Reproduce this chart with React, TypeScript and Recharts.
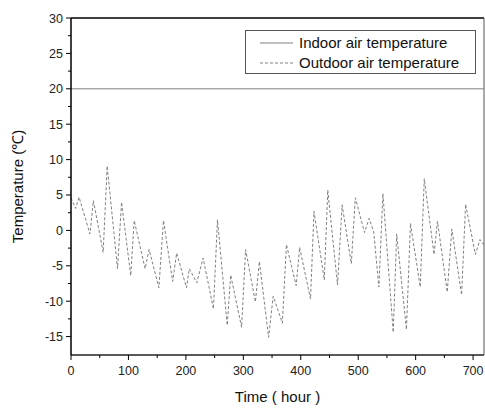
import React from 'react'
import { LineChart, Line, XAxis, YAxis, ReferenceLine } from 'recharts'

// outdoor air temperature (hour, °C)
const hours = [
  0, 8, 14, 33, 39, 56, 63, 81, 88, 104, 110, 129, 136, 153, 161, 177, 184, 201, 206, 219,
  230, 248, 255, 272, 278, 297, 304, 321, 328, 344, 352, 368, 375, 392, 398, 417, 423, 441,
  447, 464, 472, 488, 495, 511, 519, 527, 536, 543, 561, 567, 584, 591, 608, 615, 632, 638,
  655, 663, 680, 687, 704, 712, 719,
]
const outdoor = [
  4.6, 3.1, 4.7, -0.5, 4.2, -3.1, 9.1, -5.4, 4.0, -6.4, 1.4, -5.4, -2.7, -8.1, 1.4, -7.2, -3.2,
  -8.1, -5.4, -7.4, -3.9, -11.1, 1.5, -13.4, -6.3, -13.7, -2.7, -10.1, -4.4, -15.1, -9.3, -13.1,
  -2.0, -7.8, -2.4, -9.7, 2.7, -7.0, 5.7, -7.7, 3.6, -4.7, 4.6, -0.3, 1.7, -0.2, -8.0, 5.2, -14.4,
  -0.5, -14.0, 1.0, -8.0, 7.3, -3.4, 1.3, -8.7, 0.2, -9.1, 3.7, -3.4, -1.3, -2.1,
]

// indoor air temperature is held constant
const indoorHours = [0, 719]
const indoorValues = [20, 20]

const xTicks = [0, 50, 100, 150, 200, 250, 300, 350, 400, 450, 500, 550, 600, 650, 700]
const yTicks = [-15, -12.5, -10, -7.5, -5, -2.5, 0, 2.5, 5, 7.5, 10, 12.5, 15, 17.5, 20, 22.5, 25, 27.5, 30]

const outdoorData = hours.map((h, i) => ({ hour: h, outdoor: outdoor[i] }))
const indoorData = indoorHours.map((h, i) => ({ hour: h, indoor: indoorValues[i] }))

const font = '"Liberation Sans", Arial, sans-serif'
const lineGray = '#808080'

function XTick({ x, y, payload }: any) {
  const major = payload.value % 100 === 0
  return (
    <g>
      <line x1={x} x2={x} y1={y} y2={y + (major ? 5 : 3)} stroke="#000" strokeWidth={1} />
      {major && (
        <text x={x} y={y + 11} dy="0.75em" textAnchor="middle" fontSize={12.5} fill="#222" fontFamily={font}>
          {payload.value}
        </text>
      )}
    </g>
  )
}

function YTick({ x, y, payload }: any) {
  const major = payload.value % 5 === 0
  return (
    <g>
      <line x1={x - (major ? 5 : 3)} x2={x} y1={y} y2={y} stroke="#000" strokeWidth={1} />
      {major && (
        <text x={x - 8} y={y} dy="0.36em" textAnchor="end" fontSize={12.5} fill="#222" fontFamily={font}>
          {payload.value}
        </text>
      )}
    </g>
  )
}

function YTitle({ viewBox }: any) {
  const cy = viewBox.y + viewBox.height / 2
  return (
    <text
      x={18}
      y={cy}
      transform={`rotate(-90 18 ${cy})`}
      textAnchor="middle"
      dy="0.36em"
      fontSize={15}
      fill="#111"
      fontFamily={font}
    >
      Temperature (℃)
    </text>
  )
}

function XTitle({ viewBox }: any) {
  const cx = viewBox.x + viewBox.width / 2
  return (
    <text x={cx} y={402} textAnchor="middle" fontSize={15} fill="#111" fontFamily={font}>
      Time ( hour )
    </text>
  )
}

function LegendBox() {
  const row = (label: string, dash?: string) => (
    <div style={{ display: 'flex', alignItems: 'center', height: 20 }}>
      <svg width={33} height={4} style={{ marginLeft: 14, marginRight: 6 }}>
        <line x1={0} x2={33} y1={2} y2={2} stroke={lineGray} strokeWidth={1} strokeDasharray={dash} />
      </svg>
      <span style={{ fontSize: 15, color: '#111', fontFamily: font, lineHeight: '20px' }}>{label}</span>
    </div>
  )
  return (
    <div
      style={{
        position: 'absolute',
        left: 245,
        top: 30,
        width: 229,
        height: 40,
        border: '1px solid #555',
        background: '#fff',
        paddingTop: 2,
        boxSizing: 'content-box',
      }}
    >
      {row('Indoor air temperature')}
      {row('Outdoor air temperature', '3 2')}
    </div>
  )
}

export default function App() {
  return (
    <div style={{ position: 'absolute', left: 0, top: 0, width: 485, height: 408, background: '#fff' }}>
      <LineChart width={485} height={408} margin={{ top: 18, right: 1, bottom: 0, left: 0 }}>
        <XAxis
          dataKey="hour"
          type="number"
          domain={[0, 719]}
          ticks={xTicks}
          interval={0}
          height={53}
          tickSize={0}
          tickMargin={0}
          tickLine={false}
          tick={<XTick />}
          axisLine={{ stroke: '#222', strokeWidth: 1.5 }}
          allowDataOverflow
          label={<XTitle />}
        />
        <YAxis
          type="number"
          domain={[-17.6, 30]}
          ticks={yTicks}
          interval={0}
          width={71}
          tickSize={0}
          tickMargin={0}
          tickLine={false}
          tick={<YTick />}
          axisLine={{ stroke: '#000', strokeWidth: 1.5 }}
          allowDataOverflow
          label={<YTitle />}
        />
        <ReferenceLine y={30} stroke="#000" strokeWidth={1.5} />
        <ReferenceLine x={719} stroke="#555" strokeWidth={1} />
        <Line
          data={indoorData}
          dataKey="indoor"
          type="linear"
          stroke={lineGray}
          strokeWidth={1}
          dot={false}
          isAnimationActive={false}
        />
        <Line
          data={outdoorData}
          dataKey="outdoor"
          type="linear"
          stroke={lineGray}
          strokeWidth={1}
          strokeDasharray="3 2"
          dot={false}
          isAnimationActive={false}
        />
      </LineChart>
      <LegendBox />
    </div>
  )
}
